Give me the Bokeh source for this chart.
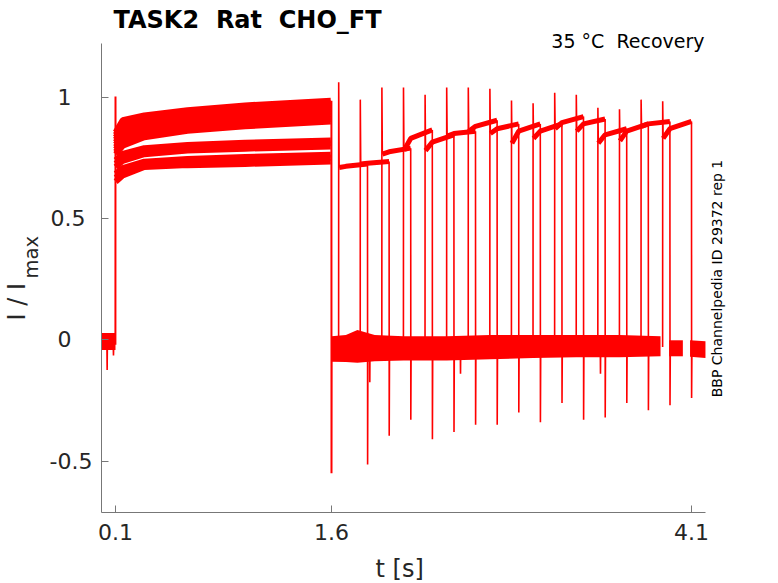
from math import pi
from bokeh.plotting import figure
from bokeh.models import Label, FixedTicker, Range1d, LinearAxis
from bokeh.embed import file_html
from bokeh.resources import INLINE

# ---------------- data ----------------
# baseline noise band before the prepulse
base0_t = [0.003, 0.100]
base0_hi = [0.028, 0.028]
base0_lo = [-0.042, -0.042]

# baseline noise band after the prepulse
base_t = [1.600, 1.700, 1.780, 1.900, 2.100, 2.400, 2.700, 3.000, 3.300, 3.600, 3.885]
base_hi = [0.015, 0.020, 0.040, 0.020, 0.015, 0.015, 0.020, 0.020, 0.020, 0.020, 0.015]
base_lo = [-0.090, -0.092, -0.095, -0.088, -0.085, -0.085, -0.080, -0.075, -0.072, -0.072, -0.068]
tail1_t = [3.945, 4.040]
tail1_hi = [-0.002, -0.002]
tail1_lo = [-0.068, -0.068]
tail2_t = [4.090, 4.197]
tail2_hi = [-0.002, -0.006]
tail2_lo = [-0.070, -0.075]

# prepulse (0.1 s - 1.6 s), 16 sweeps
prepulse_t = [0.101, 0.150, 0.300, 0.600, 1.000, 1.595]
prepulse_levels = [
    [0.652, 0.677, 0.712, 0.720, 0.725, 0.735],
    [0.668, 0.692, 0.722, 0.733, 0.740, 0.750],
    [0.684, 0.708, 0.734, 0.745, 0.753, 0.763],
    [0.712, 0.738, 0.765, 0.780, 0.788, 0.797],
    [0.726, 0.752, 0.778, 0.792, 0.800, 0.810],
    [0.740, 0.766, 0.790, 0.803, 0.812, 0.822],
    [0.765, 0.800, 0.835, 0.862, 0.880, 0.900],
    [0.775, 0.812, 0.845, 0.872, 0.890, 0.910],
    [0.785, 0.824, 0.855, 0.882, 0.900, 0.920],
    [0.795, 0.836, 0.866, 0.892, 0.912, 0.930],
    [0.805, 0.848, 0.876, 0.902, 0.922, 0.940],
    [0.815, 0.860, 0.886, 0.912, 0.932, 0.950],
    [0.825, 0.872, 0.896, 0.922, 0.942, 0.958],
    [0.835, 0.884, 0.906, 0.930, 0.950, 0.966],
    [0.845, 0.895, 0.916, 0.938, 0.958, 0.975],
    [0.855, 0.905, 0.925, 0.946, 0.966, 0.985],
]
onset_t = 0.100
onset_peak = 1.003
drop_t = 1.600
drop_trough = -0.55

# recovery test pulses (one per sweep)
pulse_start = [1.65, 1.80, 1.95, 2.10, 2.25, 2.40, 2.55, 2.70,
               2.85, 3.00, 3.15, 3.30, 3.45, 3.60, 3.75, 3.90]
pulse_end = [1.85, 2.00, 2.15, 2.30, 2.45, 2.60, 2.75, 2.90,
             3.05, 3.20, 3.35, 3.50, 3.65, 3.80, 3.95, 4.10]
pulse_peak = [1.062, 0.990, 1.040, 1.040, 1.010, 1.040, 1.040, 1.035,
              0.986, 0.975, 1.018, 1.010, 0.956, 0.950, 0.990, 0.983]
seg_start = [0.710, 0.725, 0.765, 0.780, 0.780, 0.840, 0.860, 0.850,
             0.810, 0.830, 0.870, 0.860, 0.810, 0.820, 0.880, 0.830]
seg_early = [0.715, 0.728, 0.775, 0.830, 0.815, 0.850, 0.880, 0.870,
             0.860, 0.860, 0.895, 0.890, 0.845, 0.860, 0.890, 0.870]
seg_final = [0.725, 0.735, 0.790, 0.865, 0.845, 0.860, 0.905, 0.890,
             0.890, 0.890, 0.920, 0.910, 0.870, 0.890, 0.900, 0.900]
tail_trough = [-0.514, -0.395, -0.330, -0.410, -0.380, -0.350, -0.350, -0.300,
               -0.340, -0.260, -0.330, -0.320, -0.260, -0.290, -0.270, -0.240]
baseline_level = -0.03

# small isolated negative dips
dip_t = [0.042, 0.086, 1.866, 2.496, 3.468]
dip_v = [-0.124, -0.065, -0.175, -0.140, -0.140]

x_ticks = [0.1, 1.6, 4.1]
y_ticks = [-0.5, 0, 0.5, 1]
y_tick_labels = {-0.5: "-0.5", 0: "0\u00a0\u00a0\u00a0", 0.5: "0.5\u00a0", 1: "1\u00a0\u00a0\u00a0"}

title_text = "TASK2 \u00a0Rat \u00a0CHO_FT"
subtitle_text = "35 \u00b0C \u00a0Recovery"
side_text = "BBP Channelpedia ID 29372 rep 1"
x_label = "t [s]"
y_label_main = "I / I"
y_label_sub = "max"

# axis limits (the drawn axes' extent)
AX_X0, AX_X1 = 0.0028, 4.197
AX_Y0, AX_Y1 = -0.7106, 1.2213

# ---------------- figure ----------------
RED = "#ff0000"
FONT = "DejaVu Sans"
W, H = 778, 583
SX, SY = 144.0, 242.6          # pixels per data unit
XL = AX_X0 - 101.0 / SX        # frame covers the whole canvas
XR = XL + W / SX
YT = 339.3 / SY
YB = YT - H / SY

p = figure(width=W, height=H, output_backend="svg", toolbar_location=None,
           x_range=Range1d(XL, XR), y_range=Range1d(YB, YT),
           x_axis_location=None, y_axis_location=None, min_border=0)
p.outline_line_color = None
p.background_fill_color = "white"
p.border_fill_color = "white"
for g in p.grid:
    g.visible = False

def X(px):
    return XL + px / SX

def Y(py):
    return YT - py / SY

# baseline bands
p.varea(x=base0_t, y1=base0_lo, y2=base0_hi, fill_color=RED)
p.varea(x=base_t, y1=base_lo, y2=base_hi, fill_color=RED)
p.varea(x=tail1_t, y1=tail1_lo, y2=tail1_hi, fill_color=RED)
p.varea(x=tail2_t, y1=tail2_lo, y2=tail2_hi, fill_color=RED)

# prepulse traces
p.multi_line(xs=[prepulse_t] * len(prepulse_levels), ys=prepulse_levels,
             line_color=RED, line_width=6)

# onset transient and end-of-prepulse tail
p.line([onset_t - 0.0006, onset_t, onset_t + 0.0008],
       [baseline_level + 0.01, onset_peak, prepulse_levels[0][0]],
       line_color=RED, line_width=2)
p.line([drop_t - 0.0006, drop_t, drop_t + 0.0012],
       [prepulse_levels[-1][-1], drop_trough, baseline_level],
       line_color=RED, line_width=2)

# test pulse plateaus and their transients
seg_xs, seg_ys = [], []
spk_xs, spk_ys = [], []
for i in range(len(pulse_start)):
    ts, te = pulse_start[i], pulse_end[i]
    seg_xs.append([ts + 0.003, ts + 0.05, te])
    seg_ys.append([seg_start[i], seg_early[i], seg_final[i]])
    spk_xs.append([ts - 0.0005, ts, ts + 0.003])
    spk_ys.append([baseline_level, pulse_peak[i], seg_start[i]])
    spk_xs.append([te, te + 0.0008, te + 0.003])
    spk_ys.append([seg_final[i], tail_trough[i], baseline_level])
for t, v in zip(dip_t, dip_v):
    spk_xs.append([t - 0.0015, t, t + 0.0015])
    spk_ys.append([baseline_level, v, baseline_level])

p.multi_line(xs=seg_xs, ys=seg_ys, line_color=RED, line_width=5)
p.multi_line(xs=spk_xs, ys=spk_ys, line_color=RED, line_width=1.6)

# axes (fixed in place inside the full-canvas frame)
AXC = "#777777"
TXT = "#262626"
xaxis = LinearAxis(fixed_location=AX_Y0, bounds=(AX_X0, AX_X1),
                   ticker=FixedTicker(ticks=x_ticks))
yaxis = LinearAxis(fixed_location=AX_X0, bounds=(AX_Y0, AX_Y1),
                   ticker=FixedTicker(ticks=y_ticks))
for ax in (xaxis, yaxis):
    ax.axis_line_color = AXC
    ax.major_tick_line_color = AXC
    ax.minor_tick_line_color = None
    ax.major_tick_in = 7
    ax.major_tick_out = 0
    ax.major_label_text_font = FONT
    ax.major_label_text_font_size = "22px"
    ax.major_label_text_color = TXT
yaxis.major_label_overrides = y_tick_labels
xaxis.major_label_standoff = 12
yaxis.major_label_standoff = 9
p.add_layout(xaxis, "below")
p.add_layout(yaxis, "left")

# texts (baseline anchors corrected for the renderer's offset)
p.add_layout(Label(x=X(113), y=Y(19), text=title_text, text_font=FONT,
                   text_font_style="bold", text_font_size="24px", text_color="black",
                   text_align="left", text_baseline="alphabetic"))
p.add_layout(Label(x=X(704), y=Y(40.5), text=subtitle_text, text_font=FONT,
                   text_font_size="19px", text_color="black",
                   text_align="right", text_baseline="alphabetic"))
p.add_layout(Label(x=X(716), y=Y(278), text=side_text, text_font=FONT,
                   text_font_size="14px", text_color="black", angle=pi / 2,
                   text_align="center", text_baseline="alphabetic"))
p.add_layout(Label(x=X(375), y=Y(568), text=x_label, text_font=FONT,
                   text_font_size="24px", text_color=TXT,
                   text_align="left", text_baseline="alphabetic"))
p.add_layout(Label(x=X(16), y=Y(320), text=y_label_main, text_font=FONT,
                   text_font_size="24px", text_color=TXT, angle=pi / 2,
                   text_align="left", text_baseline="alphabetic"))
p.add_layout(Label(x=X(30.5), y=Y(278), text=y_label_sub, text_font=FONT,
                   text_font_size="19.5px", text_color=TXT, angle=pi / 2,
                   text_align="left", text_baseline="alphabetic"))

open("out.html", "w").write(file_html(p, INLINE))
